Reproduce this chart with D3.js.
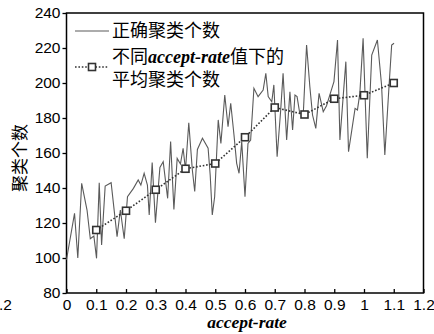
<!DOCTYPE html>
<html><head><meta charset="utf-8">
<script src="https://cdn.jsdelivr.net/npm/d3@7"></script>
<style>body{margin:0;background:#fff}svg{display:block}</style>
</head><body>
<svg id="c" width="434" height="334"></svg>
<script>
// Correct cluster count (solid line) – x positions and values
const rateX = [0,0.027,0.038,0.051,0.069,0.080,0.092,0.101,0.110,0.118,0.130,0.150,0.170,0.181,0.194,0.205,0.225,0.241,0.250,0.261,0.272,0.278,0.288,0.299,0.314,0.325,0.340,0.350,0.361,0.372,0.383,0.392,0.400,0.411,0.423,0.431,0.440,0.457,0.476,0.483,0.490,0.498,0.510,0.519,0.532,0.543,0.552,0.563,0.572,0.580,0.589,0.600,0.610,0.619,0.630,0.644,0.661,0.670,0.678,0.690,0.697,0.708,0.720,0.728,0.740,0.751,0.760,0.768,0.775,0.784,0.796,0.807,0.818,0.827,0.838,0.849,0.863,0.874,0.885,0.899,0.911,0.919,0.930,0.939,0.948,0.959,0.970,0.978,0.986,0.997,1.003,1.011,1.026,1.045,1.059,1.070,1.084,1.093,1.101];
const correctCount = [99,125.5,100,142.7,127.4,111,112.6,99.8,143,107.4,141.1,143,112.2,127.4,111,135,139.8,144.6,141.7,148.4,141.7,124.6,154.5,120.2,151.8,155,134.1,166.5,127.8,156.9,153.7,162.7,150.3,177.3,150.3,138,162,168.4,162.7,147.4,124.6,135,178.9,165.5,193.1,175,188.4,170.3,154.1,148.4,166.5,135,165.5,167.4,197,192.2,196,205.5,192.2,189.3,198.9,157.9,184.6,205.5,167.4,195,173.1,193.1,192.2,182.7,182.7,221.7,197.9,181.7,174.1,194.1,183.6,187,193.1,200.8,224.6,167.4,192.2,212.2,160.7,173.1,185.5,184.6,194.1,225.5,196,157,216,224.6,198.9,158.9,197.9,221.7,222.7];
// Average cluster count per accept-rate
const avgRate = [0.1,0.2,0.3,0.4,0.5,0.6,0.7,0.8,0.9,1.0,1.1];
const avgCount = [116,127,139,151,154,169,186,182,191,193,200];
// Ticks
const xTicks = [0,0.1,0.2,0.3,0.4,0.5,0.6,0.7,0.8,0.9,1,1.1,1.2];
const xTickLabels = ["0","0.1","0.2","0.3","0.4","0.5","0.6","0.7","0.8","0.9","1","1.1","1.2"];
const yTicks = [80,100,120,140,160,180,200,220,240];
const legendLabels = ["正确聚类个数","不同","accept-rate","值下的","平均聚类个数"];
const xTitle = "accept-rate";
const yTitle = "聚类个数";

const svg = d3.select("#c");
const L=66.5, R=423.5, T=13, B=293;
const x = d3.scaleLinear().domain([0,1.2]).range([L,R]);
const y = d3.scaleLinear().domain([80,240]).range([B,T]);
const sans = "'Liberation Sans', Arial, sans-serif";
const cjk = "'Noto Sans CJK SC', sans-serif";
const serifBI = "'Liberation Serif', 'Times New Roman', serif";

// axes
const xa = svg.append("g").attr("transform",`translate(0,${B})`)
  .call(d3.axisBottom(x).tickValues(xTicks).tickSizeInner(-4).tickSizeOuter(0).tickPadding(6)
    .tickFormat((d,i)=>xTickLabels[i]));
const ya = svg.append("g").attr("transform",`translate(${L},0)`)
  .call(d3.axisLeft(y).tickValues(yTicks).tickSizeInner(4).tickSizeOuter(0).tickPadding(2));
[xa,ya].forEach(g=>{
  g.selectAll("text").attr("font-family",sans).attr("font-size",15.5).attr("fill","#000");
  g.selectAll("line").attr("stroke","#000").attr("stroke-width",1.3);
  g.select(".domain").remove();
});
// frame
svg.append("rect").attr("x",L).attr("y",T).attr("width",R-L).attr("height",B-T)
  .attr("fill","none").attr("stroke","#000").attr("stroke-width",1.5);

// stray clipped label at far left (as in the reference)
svg.append("text").attr("x",12).attr("y",293+6).attr("dy","0.71em").attr("text-anchor","end")
  .attr("font-family",sans).attr("font-size",15.5).text(xTickLabels[12]);

// solid line
const pts = rateX.map((v,i)=>[v,correctCount[i]]);
svg.append("path").datum(pts)
  .attr("d",d3.line().x(d=>x(d[0])).y(d=>y(d[1])))
  .attr("fill","none").attr("stroke","#5a5a5a").attr("stroke-width",1.1);

// dotted avg line
const apts = avgRate.map((v,i)=>[v,avgCount[i]]);
svg.append("path").datum(apts)
  .attr("d",d3.line().x(d=>x(d[0])).y(d=>y(d[1])))
  .attr("fill","none").attr("stroke","#333").attr("stroke-width",1.6).attr("stroke-dasharray","1.6,1.8");
svg.selectAll("rect.m").data(apts).join("rect").attr("class","m")
  .attr("x",d=>x(d[0])-3.5).attr("y",d=>y(d[1])-3.5).attr("width",7).attr("height",7)
  .attr("fill","#fff").attr("stroke","#333").attr("stroke-width",1.6);

// legend
const lg = svg.append("g");
lg.append("line").attr("x1",75).attr("x2",109).attr("y1",31).attr("y2",31).attr("stroke","#5a5a5a").attr("stroke-width",1.1);
lg.append("text").attr("x",112).attr("y",31).attr("dy","0.36em").attr("font-family",cjk).attr("font-size",18).text(legendLabels[0]);
lg.append("line").attr("x1",75).attr("x2",109).attr("y1",67).attr("y2",67).attr("stroke","#333").attr("stroke-width",1.6).attr("stroke-dasharray","1.6,1.8");
lg.append("rect").attr("x",92-3.5).attr("y",67-3.5).attr("width",7).attr("height",7).attr("fill","#fff").attr("stroke","#333").attr("stroke-width",1.6);
const t2 = lg.append("text").attr("x",112).attr("y",56.5).attr("dy","0.36em").attr("font-size",18);
t2.append("tspan").attr("font-family",cjk).text(legendLabels[1]);
t2.append("tspan").attr("font-family",serifBI).attr("font-style","italic").attr("font-weight","bold").text(legendLabels[2]);
t2.append("tspan").attr("font-family",cjk).text(legendLabels[3]);
lg.append("text").attr("x",112).attr("y",79.5).attr("dy","0.36em").attr("font-family",cjk).attr("font-size",18).text(legendLabels[4]);

// titles
svg.append("text").attr("x",(L+R)/2+2).attr("y",328).attr("text-anchor","middle")
  .attr("font-family",serifBI).attr("font-style","italic").attr("font-weight","bold").attr("font-size",17.5).text(xTitle);
svg.append("text").attr("transform","translate(20,158) rotate(-90)").attr("text-anchor","middle").attr("dy","0.36em")
  .attr("font-family",cjk).attr("font-size",17).text(yTitle);
</script>
</body></html>
